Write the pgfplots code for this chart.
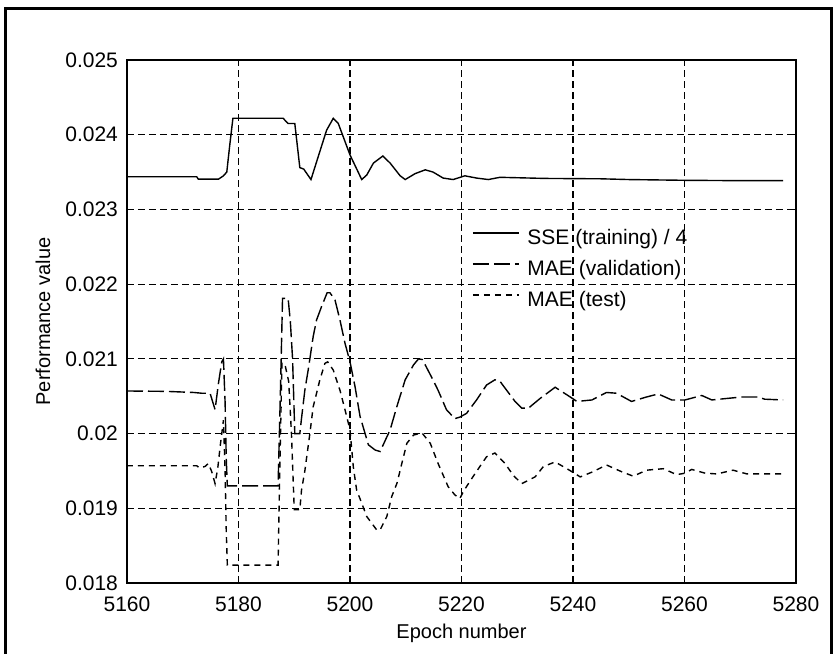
\documentclass[border=0pt]{standalone}
\usepackage{fontspec}
\setmainfont{Liberation Sans}
\usepackage{pgfplots}
\pgfplotsset{compat=1.18}
\begin{document}
\begin{tikzpicture}[x=1pt,y=1pt]
\useasboundingbox (-63.5,-35.5) rectangle (355,291.5);
\draw[line width=1.5pt] (-60.75,-36) -- (-60.75,287.25) -- (352,287.25) -- (352,-36);
\begin{axis}[
  at={(0pt,0pt)}, anchor=south west,
  scale only axis, width=334.5pt, height=261.5pt,
  xmin=5160, xmax=5280, ymin=0.018, ymax=0.025,
  xtick={5160,5180,5200,5220,5240,5260,5280},
  ytick={0.018,0.019,0.020,0.021,0.022,0.023,0.024,0.025},
  yticklabels={0.018,0.019,0.02,0.021,0.022,0.023,0.024,0.025},
  scaled y ticks=false,
  /pgf/number format/1000 sep={},
  /pgf/number format/assume math mode=true,
  tick label style={font=\fontsize{10.5}{12}\selectfont},
  xticklabel style={yshift=-3.5pt},
  yticklabel style={xshift=-1pt},
  grid=major,
  major grid style={black, line width=0.6pt, dash pattern=on 3.5pt off 2pt},
  tick align=inside, major tick length=3pt,
  tick style={black, line width=0.6pt},
  axis line style={line width=0.8pt},
  xlabel={Epoch number},
  ylabel={Performance value},
  label style={font=\fontsize{10.5}{12}\selectfont},
  every axis x label/.style={at={(axis description cs:0.5,-0.0956)}, anchor=center},
  every axis y label/.style={at={(axis description cs:-0.1256,0.5)}, rotate=90, anchor=center},
  legend style={draw=none, fill=none, at={(rel axis cs:0.5152,0.6788)}, anchor=north west,
    inner sep=0pt, row sep=5pt, column sep=4pt,
    nodes={inner sep=0pt, text height=8pt, text depth=2.5pt, font=\fontsize{10.5}{12}\selectfont}},
  legend cell align=left,
  legend image code/.code={\draw[#1] (0pt,3pt) -- (23pt,3pt);},
]
\addplot[black, line width=0.7pt] coordinates {
(5160,0.023438) (5172.5,0.023438) (5172.8,0.023405) (5176.4,0.023405)
(5177.3,0.02345) (5177.9,0.02350) (5178.4,0.02384) (5179.0,0.02422)
(5188.0,0.02422) (5188.9,0.02415) (5190.1,0.02415) (5191.0,0.02356)
(5191.7,0.02354) (5193.0,0.02340) (5195.8,0.02406) (5197.0,0.02422)
(5197.9,0.02415) (5200.0,0.02373) (5202.1,0.02340) (5203.0,0.02346)
(5204.2,0.02362) (5205.9,0.023715) (5207.2,0.02362) (5209.0,0.02345)
(5209.9,0.02340) (5211.7,0.02348) (5213.5,0.02353) (5214.9,0.02350)
(5216.7,0.02342) (5218.5,0.02340) (5220.6,0.02345) (5222.7,0.02342)
(5224.8,0.02340) (5226.9,0.02343) (5235,0.023415) (5245,0.02341)
(5250,0.02340) (5260,0.02339) (5270,0.023385) (5277.7,0.023385)
};
\addplot[black, line width=0.7pt, dash pattern=on 8pt off 2.5pt] coordinates {
(5160,0.02057) (5167,0.020565) (5172,0.02055) (5173.4,0.02054)
(5174.9,0.02054) (5175.8,0.02032) (5176.4,0.02067) (5177.0,0.02096)
(5177.3,0.02100) (5177.6,0.02041) (5177.8,0.01967) (5178.0,0.01930)
(5187.1,0.01930) (5187.5,0.02050) (5187.9,0.02181) (5188.9,0.02181)
(5189.3,0.02150) (5189.7,0.02100) (5190.1,0.02000) (5191.0,0.02000)
(5191.3,0.02020) (5191.9,0.02058) (5192.5,0.02085) (5193.4,0.02130)
(5194.0,0.02152) (5194.9,0.02170) (5195.9,0.021885) (5196.4,0.021885)
(5197.3,0.02179) (5198.2,0.02152) (5199.1,0.02121) (5200.0,0.02096)
(5200.9,0.02063) (5201.8,0.02023) (5203.3,0.01985) (5204.5,0.01978)
(5205.4,0.01976) (5207.2,0.02005) (5208.4,0.02036) (5209.9,0.02072)
(5211.4,0.02092) (5212.3,0.02100) (5213.0,0.02099) (5214.6,0.02076)
(5215.8,0.02058) (5217.3,0.02032) (5218.8,0.02020) (5219.7,0.02022)
(5220.9,0.02027) (5222.7,0.02045) (5224.5,0.02065) (5226.0,0.02072)
(5226.9,0.02070) (5228.1,0.02058) (5229.6,0.02043) (5230.8,0.02034)
(5232.0,0.02034) (5234.1,0.02047) (5236.8,0.02062) (5239.5,0.02049)
(5240.7,0.02043) (5243.4,0.02045) (5246.0,0.02055) (5247.8,0.02054)
(5250.5,0.02043) (5253.2,0.02049) (5255.3,0.02053) (5257.7,0.02045)
(5260.1,0.02045) (5263.1,0.02051) (5264.9,0.02045) (5270.3,0.02049)
(5273.2,0.02049) (5274.4,0.02046) (5277.7,0.02045)
};
\addplot[black, line width=0.7pt, dash pattern=on 3pt off 2.5pt] coordinates {
(5160,0.01957) (5172.5,0.01957) (5173.0,0.01954) (5174.0,0.01956)
(5174.6,0.01960) (5175.2,0.01949) (5175.8,0.01933) (5176.3,0.01955)
(5176.7,0.01982) (5177.3,0.02018) (5177.6,0.01950) (5177.8,0.01870)
(5178.0,0.01824) (5187.1,0.01824) (5187.4,0.01950) (5187.8,0.02095)
(5188.4,0.02090) (5189.0,0.02070) (5189.5,0.02000) (5190.0,0.01898)
(5191.0,0.01898) (5191.3,0.01924) (5191.9,0.01950) (5192.8,0.02000)
(5193.4,0.02036) (5194.6,0.02072) (5195.5,0.02094) (5196.0,0.02096)
(5197.0,0.02085) (5198.2,0.02058) (5199.1,0.02032) (5200.0,0.02005)
(5200.6,0.01955) (5201.2,0.01924) (5202.1,0.01907) (5203.0,0.01889)
(5204.8,0.01871) (5205.4,0.01871) (5206.6,0.01889) (5207.5,0.01916)
(5208.4,0.01933) (5209.3,0.01960) (5210.2,0.01987) (5211.4,0.01998)
(5212.9,0.02001) (5214.4,0.01987) (5215.8,0.01960) (5217.6,0.01929)
(5218.8,0.01918) (5219.7,0.01913) (5220.3,0.01922) (5221.5,0.01936)
(5223.3,0.01956) (5224.5,0.01969) (5226.0,0.01974) (5227.8,0.01960)
(5229.3,0.01944) (5230.8,0.01933) (5233.2,0.01942) (5234.7,0.01956)
(5236.8,0.01962) (5238.9,0.01953) (5239.8,0.01949) (5241.3,0.01942)
(5243.6,0.01949) (5246.0,0.01958) (5248.7,0.01949) (5250.8,0.01943)
(5253.2,0.01951) (5256.2,0.01953) (5258.6,0.01945) (5260.1,0.01947)
(5261.3,0.01952) (5263.7,0.01947) (5265.8,0.01946) (5268.7,0.01951)
(5271.2,0.01946) (5277.7,0.01946)
};
\legend{SSE (training) / 4, MAE (validation), MAE (test)}
\end{axis}
\end{tikzpicture}
\end{document}
